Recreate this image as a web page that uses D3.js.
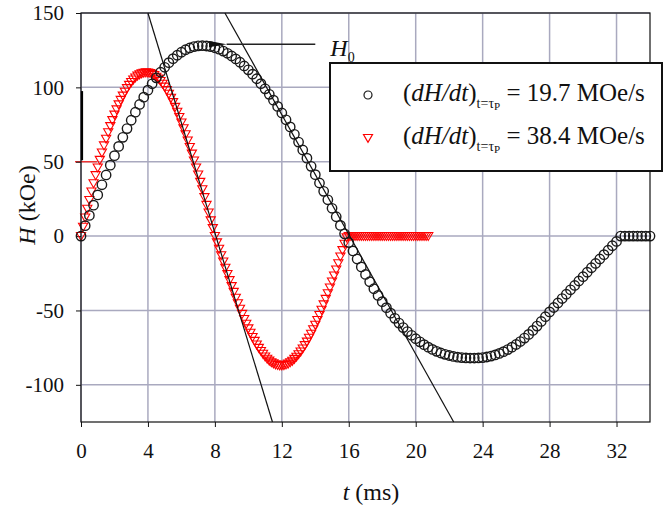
<!DOCTYPE html>
<html>
<head>
<meta charset="utf-8">
<script src="https://cdn.jsdelivr.net/npm/d3@7"></script>
</head>
<body style="margin:0">
<svg id="chart" width="668" height="510"></svg>
<script>
// sampling steps of the two pulses (ms)
const stepBlack = 0.25;
const stepRed = 0.125;

// H (kOe) of the slow pulse, one row per ms
const hBlack = [
  0, 7.0, 13.9, 20.8,
  27.7, 34.5, 41.1, 47.7,
  54.1, 60.3, 66.4, 72.3,
  77.9, 83.3, 88.5, 93.4,
  98.1, 102.4, 106.4, 110.2,
  113.5, 116.6, 119.3, 121.6,
  123.6, 125.3, 126.5, 127.4,
  127.9, 128.0, 127.8, 127.4,
  126.6, 125.7, 124.4, 122.9,
  121.1, 119.1, 116.9, 114.4,
  111.8, 108.9, 105.8, 102.5,
  99.0, 95.3, 91.4, 87.2,
  82.8, 78.2, 73.4, 68.4,
  63.2, 57.9, 52.4, 46.9,
  41.3, 35.7, 30.1, 24.4,
  18.7, 13.0, 7.2, 1.5,
  -4.3, -10.0, -15.4, -20.7,
  -25.8, -30.7, -35.4, -39.9,
  -44.1, -48.1, -51.8, -55.3,
  -58.5, -61.5, -64.2, -66.7,
  -69.0, -71.1, -73.0, -74.7,
  -76.2, -77.5, -78.6, -79.5,
  -80.3, -80.9, -81.4, -81.7,
  -81.9, -82.0, -82.0, -81.9,
  -81.7, -81.3, -80.7, -79.9,
  -78.9, -77.7, -76.3, -74.7,
  -72.9, -70.9, -68.6, -66.1,
  -63.4, -60.5, -57.4, -54.2,
  -51.0, -48.0, -45.0, -42.0,
  -39.1, -36.1, -33.2, -30.2,
  -27.3, -24.3, -21.3, -18.4,
  -15.4, -12.5, -9.5, -6.5,
  -3.6, 0, 0, 0,
  0, 0, 0, 0,
  0
];

// H (kOe) of the fast pulse, one row per ms
const hRed = [
  0, 6.2, 12.4, 18.3, 24.2, 29.9, 35.5, 40.9,
  46.1, 51.2, 56.1, 60.9, 65.4, 69.8, 73.9, 77.9,
  81.6, 85.1, 88.5, 91.5, 94.4, 97.0, 99.4, 101.6,
  103.5, 105.2, 106.6, 107.8, 108.7, 109.4, 109.8, 110.0,
  109.9, 109.6, 109.0, 108.2, 107.1, 105.8, 104.2, 102.4,
  100.4, 98.1, 95.6, 92.9, 90.0, 86.8, 83.5, 80.0,
  76.3, 72.4, 68.4, 64.2, 59.8, 55.4, 50.8, 46.1,
  41.3, 36.4, 31.4, 26.1, 20.9, 15.8, 10.5, 5.3,
  0, -4.3, -8.6, -12.9, -17.2, -21.4, -25.6, -29.7,
  -33.7, -37.6, -41.5, -45.2, -48.9, -52.4, -55.8, -59.0,
  -62.1, -65.1, -67.9, -70.5, -73.0, -75.2, -77.3, -79.2,
  -81.0, -82.5, -83.8, -84.9, -85.6, -86.3, -86.7, -87.0,
  -87.0, -86.8, -86.4, -85.8, -84.9, -83.9, -82.6, -81.2,
  -79.5, -77.7, -75.6, -73.4, -71.0, -68.4, -65.7, -62.7,
  -59.7, -56.5, -53.1, -49.6, -46.0, -42.3, -38.5, -34.6,
  -30.6, -26.6, -22.5, -18.3, -13.8, -9.5, -5.2, -0.9,
  0, 0, 0, 0, 0, 0, 0, 0,
  0, 0, 0, 0, 0, 0, 0, 0,
  0, 0, 0, 0, 0, 0, 0, 0,
  0, 0, 0, 0, 0, 0, 0, 0,
  0, 0, 0, 0, 0, 0, 0
];

// tangent lines (t in ms, H in kOe)
const tangentBlack = [[8.6, 150], [22.27, -125]];
const tangentRed = [[4.0, 150], [11.44, -125]];

// H0 arrow: level and t range
const h0Level = 129;
const h0From = 14.0;
const h0To = 8.7;

const xTicks = [0, 4, 8, 12, 16, 20, 24, 28, 32];
const yTicks = [-100, -50, 0, 50, 100, 150];
const legendRates = ['19.7', '38.4'];

const FONT = 'Times New Roman';

const width = 668, height = 510;
const margin = {top: 13, right: 18, bottom: 88, left: 81};
const innerWidth = width - margin.left - margin.right;
const innerHeight = height - margin.top - margin.bottom;

const blackData = hBlack.map((h, i) => ({t: i * stepBlack, h: h}));
const redData = hRed.map((h, i) => ({t: i * stepRed, h: h}));

const svg = d3.select('#chart');
svg.append('rect').attr('width', width).attr('height', height).attr('fill', '#fff');

const g = svg.append('g')
  .attr('transform', `translate(${margin.left},${margin.top})`);

const xScale = d3.scaleLinear().domain([0, 34]).range([0, innerWidth]);
const yScale = d3.scaleLinear().domain([-125, 150]).range([innerHeight, 0]);

// grid
g.append('g').selectAll('line').data(xTicks).enter().append('line')
  .attr('x1', d => xScale(d)).attr('x2', d => xScale(d))
  .attr('y1', 0).attr('y2', innerHeight)
  .attr('stroke', '#a9a9bf').attr('stroke-width', 1.5);
g.append('g').selectAll('line').data(yTicks).enter().append('line')
  .attr('x1', 0).attr('x2', innerWidth)
  .attr('y1', d => yScale(d)).attr('y2', d => yScale(d))
  .attr('stroke', '#a9a9bf').attr('stroke-width', 1.5);

// red trace on the 50 kOe line near the axis (as in the scan)
g.append('line')
  .attr('x1', -6).attr('x2', xScale(0.95))
  .attr('y1', yScale(50)).attr('y2', yScale(50))
  .attr('stroke', '#e33').attr('stroke-width', 1.5);

// axes
const xAxis = d3.axisBottom(xScale).tickValues(xTicks)
  .tickSize(5).tickPadding(16).tickFormat(d => String(d));
const yAxis = d3.axisLeft(yScale).tickValues(yTicks)
  .tickSize(5).tickPadding(12).tickFormat(d => String(d));

const xAxisG = g.append('g')
  .attr('transform', `translate(0,${innerHeight})`)
  .call(xAxis);
const yAxisG = g.append('g').call(yAxis);

[xAxisG, yAxisG].forEach(a => {
  a.attr('font-family', null).attr('font-size', null);
  a.select('.domain').remove();
  a.selectAll('.tick line').attr('stroke', '#111');
  a.selectAll('.tick text')
    .style('font-family', FONT)
    .style('font-size', '21px')
    .attr('fill', '#111');
});

// fast pulse: open down triangles
g.append('g').selectAll('path').data(redData).enter().append('path')
  .attr('transform', d => `translate(${xScale(d.t)},${yScale(d.h)})`)
  .attr('d', 'M-4.6,-3.6L4.6,-3.6L0,4.4Z')
  .attr('fill', 'none')
  .attr('stroke', '#f00')
  .attr('stroke-width', 1.1);

// slow pulse: open circles
g.append('g').selectAll('circle').data(blackData).enter().append('circle')
  .attr('cx', d => xScale(d.t))
  .attr('cy', d => yScale(d.h))
  .attr('r', 4.7)
  .attr('fill', 'none')
  .attr('stroke', '#1a1a1a')
  .attr('stroke-width', 1.4);

// tangents
const line = d3.line().x(d => xScale(d[0])).y(d => yScale(d[1]));
[tangentBlack, tangentRed].forEach(tg => {
  g.append('path').attr('d', line(tg))
    .attr('fill', 'none').attr('stroke', '#111').attr('stroke-width', 1.2);
});

// H0 arrow
svg.append('defs').append('marker')
  .attr('id', 'arrowHead')
  .attr('viewBox', '0 0 18 8')
  .attr('refX', 0).attr('refY', 4)
  .attr('markerWidth', 18).attr('markerHeight', 8)
  .attr('markerUnits', 'userSpaceOnUse')
  .attr('orient', 'auto-start-reverse')
  .append('path').attr('d', 'M0,4L18,0.8L18,7.2Z').attr('fill', '#111');

g.append('line')
  .attr('x1', xScale(h0From)).attr('x2', xScale(h0To))
  .attr('y1', yScale(h0Level)).attr('y2', yScale(h0Level))
  .attr('stroke', '#222').attr('stroke-width', 1.4)
  .attr('marker-end', 'url(#arrowHead)');

const h0Text = g.append('text')
  .attr('x', xScale(h0From) + 15)
  .attr('y', yScale(h0Level) + 12)
  .style('font-family', FONT)
  .style('font-size', '24px').attr('fill', '#111');
h0Text.append('tspan').style('font-style', 'italic').text('H');
h0Text.append('tspan').style('font-size', '14px').attr('dy', 6).text('0');

// frame
g.append('rect')
  .attr('width', innerWidth).attr('height', innerHeight)
  .attr('fill', 'none').attr('stroke', '#111').attr('stroke-width', 1.2);

// heavier stretch of the left axis (as in the scan)
g.append('line')
  .attr('x1', 1).attr('x2', 1)
  .attr('y1', yScale(97.5)).attr('y2', yScale(51))
  .attr('stroke', '#000').attr('stroke-width', 2.2);

// axis titles
const xTitle = svg.append('text')
  .attr('x', 371).attr('y', 500)
  .attr('text-anchor', 'middle')
  .style('font-family', FONT)
  .style('font-size', '24px').attr('fill', '#111');
xTitle.append('tspan').style('font-style', 'italic').text('t');
xTitle.append('tspan').text(' (ms)');

const yTitle = svg.append('text')
  .attr('transform', 'translate(35,205) rotate(-90)')
  .attr('text-anchor', 'middle')
  .style('font-family', FONT)
  .style('font-size', '24px').attr('fill', '#111');
yTitle.append('tspan').style('font-style', 'italic').text('H');
yTitle.append('tspan').text(' (kOe)');

// legend
const legend = svg.append('g').attr('transform', 'translate(330,63)');
legend.append('rect')
  .attr('width', 332).attr('height', 108)
  .attr('fill', '#fff').attr('stroke', '#111').attr('stroke-width', 2);

legendRates.forEach((rate, i) => {
  const row = legend.append('g').attr('transform', `translate(0,${32 + i * 43})`);
  if (i === 0) {
    row.append('circle').attr('cx', 38).attr('cy', 0).attr('r', 4)
      .attr('fill', 'none').attr('stroke', '#1a1a1a').attr('stroke-width', 1.2);
  } else {
    row.append('path').attr('transform', 'translate(38,0)')
      .attr('d', 'M-4.5,-3.5L4.5,-3.5L0,4.3Z')
      .attr('fill', 'none').attr('stroke', '#f00').attr('stroke-width', 1.2);
  }
  const txt = row.append('text').attr('x', 73).attr('y', 6)
    .style('font-family', FONT)
    .style('font-size', '25px').attr('fill', '#111');
  txt.append('tspan').text('(');
  txt.append('tspan').style('font-style', 'italic').text('dH/dt');
  txt.append('tspan').text(')');
  txt.append('tspan').style('font-size', '14px').attr('dy', 7).text('t=τ');
  txt.append('tspan').style('font-size', '11px').attr('dy', 2).text('P');
  txt.append('tspan').style('font-size', '25px').attr('dy', -9).text(' = ' + rate + ' MOe/s');
});
</script>
</body>
</html>
